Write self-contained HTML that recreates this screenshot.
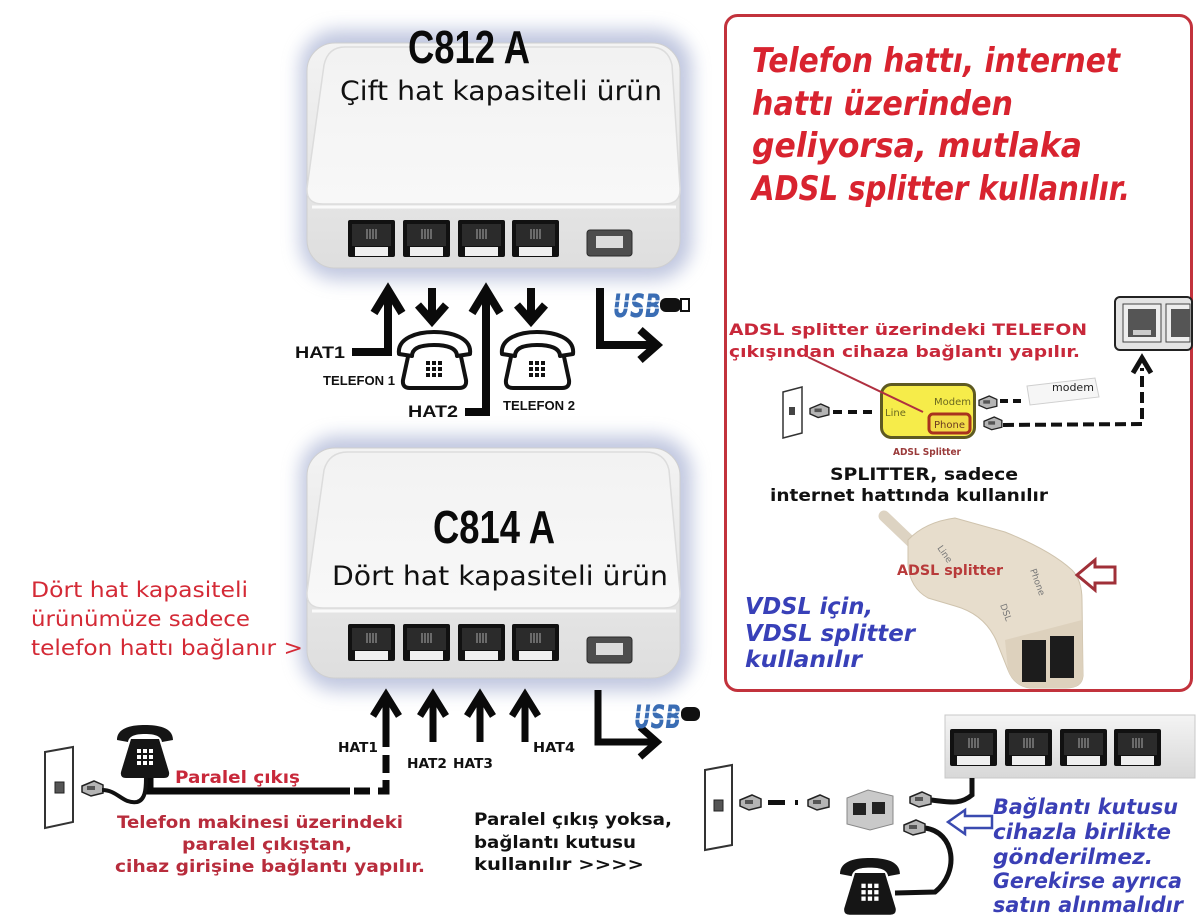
<!DOCTYPE html>
<html><head><meta charset="utf-8"><style>
html,body{margin:0;padding:0;background:#fff;}
svg{display:block;}
.b{font-family:"DejaVu Sans","Liberation Sans",sans-serif;font-weight:bold;}
.bi{font-family:"DejaVu Sans","Liberation Sans",sans-serif;font-weight:bold;font-style:italic;}
.r{font-family:"DejaVu Sans","Liberation Sans",sans-serif;}
.imp{font-family:"Liberation Sans Narrow","Liberation Sans",sans-serif;font-weight:bold;}
.ab{font-family:"Liberation Sans",sans-serif;font-weight:bold;}
</style></head><body>
<svg width="1200" height="917" viewBox="0 0 1200 917" xmlns="http://www.w3.org/2000/svg">
<defs>
  <filter id="blur" x="-20%" y="-20%" width="140%" height="140%"><feGaussianBlur stdDeviation="9"/></filter>
  <linearGradient id="topG" x1="0" y1="0" x2="0" y2="1">
    <stop offset="0" stop-color="#f2f2f2"/><stop offset="1" stop-color="#f8f8f8"/>
  </linearGradient>
  <linearGradient id="frontG" x1="0" y1="0" x2="0" y2="1">
    <stop offset="0" stop-color="#f3f3f3"/><stop offset="1" stop-color="#dedede"/>
  </linearGradient>
  <linearGradient id="stripG" x1="0" y1="0" x2="0" y2="1">
    <stop offset="0" stop-color="#f4f4f4"/><stop offset="1" stop-color="#d8d8d8"/>
  </linearGradient>
  <g id="port">
    <rect x="0" y="0" width="47" height="37" rx="2" fill="#111"/>
    <rect x="4" y="4" width="39" height="22" fill="#2b2b2b"/>
    <g stroke="#8c8c8c" stroke-width="1.3"><line x1="19" y1="9" x2="19" y2="19"/><line x1="22" y1="9" x2="22" y2="19"/><line x1="25" y1="9" x2="25" y2="19"/><line x1="28" y1="9" x2="28" y2="19"/></g>
    <rect x="7" y="27" width="33" height="9" fill="#efefef"/>
  </g>
  <g id="phoneO">
    <path d="M12,20 L6,48 Q5,56 13,56 H62 Q70,56 69,48 L63,20" fill="#fff" stroke="#111" stroke-width="4" stroke-linejoin="round"/>
    <path d="M2,22 C0,6 20,0 37,0 C55,0 75,6 73,22 L60,24 C60,16 50,13 37,13 C24,13 15,16 15,24 Z" fill="#fff" stroke="#111" stroke-width="4" stroke-linejoin="round"/>
    <g fill="#111"><rect x="29" y="29" width="4" height="4"/><rect x="35" y="29" width="4" height="4"/><rect x="41" y="29" width="4" height="4"/><rect x="29" y="35" width="4" height="4"/><rect x="35" y="35" width="4" height="4"/><rect x="41" y="35" width="4" height="4"/><rect x="29" y="41" width="4" height="4"/><rect x="35" y="41" width="4" height="4"/><rect x="41" y="41" width="4" height="4"/></g>
  </g>
  <g id="phoneB">
    <path d="M14,14 L42,14 L52,47 Q53,53 47,53 H9 Q3,53 4,47 Z" fill="#151515"/>
    <path d="M0,15 C0,2 16,0 28,0 C40,0 56,2 56,15 L45,17 C44,11 38,9 28,9 C18,9 12,11 11,17 Z" fill="#151515"/>
    <g fill="#fff"><rect x="20" y="24" width="4" height="4"/><rect x="26" y="24" width="4" height="4"/><rect x="32" y="24" width="4" height="4"/><rect x="20" y="30" width="4" height="4"/><rect x="26" y="30" width="4" height="4"/><rect x="32" y="30" width="4" height="4"/><rect x="20" y="36" width="4" height="4"/><rect x="26" y="36" width="4" height="4"/><rect x="32" y="36" width="4" height="4"/></g>
  </g>
  <g id="plug">
    <path d="M0,5 L12,0 L21,4 L21,12 L9,15 L0,11 Z" fill="#b5b5b5" stroke="#222" stroke-width="1.5"/>
    <rect x="5" y="5" width="8" height="4" fill="#555"/>
  </g>
</defs>

<!-- ===== C812 device ===== -->
<rect x="300" y="30" width="392" height="250" rx="38" fill="#8d9ac6" opacity="0.55" filter="url(#blur)"/>
<rect x="307" y="43" width="373" height="225" rx="28" fill="url(#frontG)" stroke="#cfcfcf"/>
<path d="M345,47 H650 Q668,47 672,65 L680,188 Q681,204 664,204 H323 Q306,204 307,188 L324,65 Q328,47 345,47 Z" fill="url(#topG)" stroke="#dcdcdc" stroke-width="1.5"/>
<line x1="312" y1="207" x2="676" y2="207" stroke="#fafafa" stroke-width="3"/>
<use href="#port" x="348" y="220"/><use href="#port" x="403" y="220"/><use href="#port" x="458" y="220"/><use href="#port" x="512" y="220"/>
<rect x="587" y="230" width="45" height="26" rx="3" fill="#4d4d4d" stroke="#2a2a2a"/>
<rect x="596" y="236" width="27" height="12" fill="#dcdcdc"/>
<text class="imp" x="408" y="63" font-size="46" textLength="122" lengthAdjust="spacingAndGlyphs" fill="#0a0a0a">C812 A</text>
<text class="r" x="340" y="100" font-size="27" textLength="322" lengthAdjust="spacingAndGlyphs" fill="#111">Çift hat kapasiteli ürün</text>

<!-- ===== top arrows ===== -->
<g fill="none" stroke="#0a0a0a" stroke-width="8" stroke-linejoin="miter">
  <polyline points="352,352 388,352 388,292"/>
  <polyline points="374,313 388,290 402,313"/>
  <line x1="432" y1="288" x2="432" y2="318"/>
  <polyline points="418,305 432,321 446,305"/>
  <polyline points="465,412 486,412 486,292"/>
  <polyline points="472,313 486,290 500,313"/>
  <line x1="531" y1="288" x2="531" y2="318"/>
  <polyline points="517,305 531,321 545,305"/>
  <polyline points="600,288 600,345 655,345"/>
  <polyline points="640,330 657,345 640,360"/>
</g>
<use href="#phoneO" x="397" y="332"/>
<use href="#phoneO" x="500" y="332"/>
<text class="ab" x="295" y="358" font-size="17" textLength="50" lengthAdjust="spacingAndGlyphs" fill="#111">HAT1</text>
<text class="ab" x="323" y="385" font-size="13" textLength="72" lengthAdjust="spacingAndGlyphs" fill="#111">TELEFON 1</text>
<text class="ab" x="408" y="417" font-size="17" textLength="50" lengthAdjust="spacingAndGlyphs" fill="#111">HAT2</text>
<text class="ab" x="503" y="410" font-size="13" textLength="72" lengthAdjust="spacingAndGlyphs" fill="#111">TELEFON 2</text>
<!-- USB logo top -->
<text class="bi" x="613" y="317" font-size="32" textLength="48" lengthAdjust="spacingAndGlyphs" fill="#3a6db4">USB</text>
<g stroke="#fff" stroke-width="1.3"><line x1="610" y1="301" x2="662" y2="301"/><line x1="610" y1="308" x2="662" y2="308"/></g>
<rect x="660" y="298" width="21" height="14" rx="6" fill="#111"/>
<rect x="681" y="299" width="8" height="12" fill="#fff" stroke="#111" stroke-width="2"/>

<!-- ===== C814 device ===== -->
<rect x="300" y="436" width="392" height="255" rx="38" fill="#8d9ac6" opacity="0.55" filter="url(#blur)"/>
<rect x="307" y="448" width="373" height="230" rx="28" fill="url(#frontG)" stroke="#cfcfcf"/>
<path d="M348,452 H645 Q665,452 669,470 L680,592 Q681,608 664,608 H323 Q306,608 307,592 L324,470 Q329,452 348,452 Z" fill="url(#topG)" stroke="#dcdcdc" stroke-width="1.5"/>
<line x1="312" y1="611" x2="676" y2="611" stroke="#fafafa" stroke-width="3"/>
<use href="#port" x="348" y="624"/><use href="#port" x="403" y="624"/><use href="#port" x="458" y="624"/><use href="#port" x="512" y="624"/>
<rect x="587" y="637" width="45" height="26" rx="3" fill="#4d4d4d" stroke="#2a2a2a"/>
<rect x="596" y="643" width="27" height="12" fill="#dcdcdc"/>
<text class="imp" x="433" y="543" font-size="46" textLength="122" lengthAdjust="spacingAndGlyphs" fill="#0a0a0a">C814 A</text>
<text class="r" x="332" y="585" font-size="27" textLength="336" lengthAdjust="spacingAndGlyphs" fill="#111">Dört hat kapasiteli ürün</text>

<!-- left red text -->
<g class="r" fill="#d42a36" font-size="21">
  <text x="31" y="597" textLength="217" lengthAdjust="spacingAndGlyphs">Dört hat kapasiteli</text>
  <text x="31" y="626" textLength="219" lengthAdjust="spacingAndGlyphs">ürünümüze sadece</text>
  <text x="31" y="655" textLength="272" lengthAdjust="spacingAndGlyphs">telefon hattı bağlanır &gt;</text>
</g>

<!-- ===== bottom arrows ===== -->
<g fill="none" stroke="#0a0a0a" stroke-width="7">
  <line x1="386" y1="697" x2="386" y2="747"/>
  <polyline points="373,716 386,695 399,716"/>
  <line x1="433" y1="697" x2="433" y2="742"/>
  <polyline points="420,716 433,695 446,716"/>
  <line x1="480" y1="697" x2="480" y2="742"/>
  <polyline points="467,716 480,695 493,716"/>
  <line x1="525" y1="697" x2="525" y2="742"/>
  <polyline points="512,716 525,695 538,716"/>
  <polyline points="598,690 598,742 655,742"/>
  <polyline points="640,727 657,742 640,757"/>
  <line x1="386" y1="755" x2="386" y2="773"/>
  <polyline points="378,791 386,791 386,780"/>
  <polyline points="150,778 150,791 350,791"/>
  <line x1="354" y1="791" x2="370" y2="791"/>
</g>
<text class="b" x="338" y="752" font-size="13" textLength="40" lengthAdjust="spacingAndGlyphs" fill="#111">HAT1</text>
<text class="b" x="407" y="768" font-size="13" textLength="40" lengthAdjust="spacingAndGlyphs" fill="#111">HAT2</text>
<text class="b" x="453" y="768" font-size="13" textLength="40" lengthAdjust="spacingAndGlyphs" fill="#111">HAT3</text>
<text class="b" x="533" y="752" font-size="13" textLength="42" lengthAdjust="spacingAndGlyphs" fill="#111">HAT4</text>
<!-- USB logo bottom -->
<text class="bi" x="634" y="728" font-size="32" textLength="47" lengthAdjust="spacingAndGlyphs" fill="#3a6db4">USB</text>
<g stroke="#fff" stroke-width="1.3"><line x1="631" y1="712" x2="682" y2="712"/><line x1="631" y1="719" x2="682" y2="719"/></g>
<rect x="681" y="707" width="19" height="14" rx="6" fill="#111"/>

<!-- bottom-left wiring -->
<path d="M45,752 L73,747 L73,822 L45,828 Z" fill="#fff" stroke="#333" stroke-width="2"/>
<rect x="55" y="782" width="9" height="11" fill="#555" stroke="#222"/>
<use href="#plug" x="82" y="781"/>
<path d="M102,790 C118,790 122,804 137,802 C145,800 146,790 146,778" fill="none" stroke="#111" stroke-width="4"/>
<use href="#phoneB" x="117" y="725"/>
<text class="b" x="175" y="783" font-size="17" textLength="125" lengthAdjust="spacingAndGlyphs" fill="#c8283a">Paralel çıkış</text>
<g class="b" fill="#b82c3c" font-size="17">
  <text x="117" y="828" textLength="286" lengthAdjust="spacingAndGlyphs">Telefon makinesi üzerindeki</text>
  <text x="182" y="850" textLength="170" lengthAdjust="spacingAndGlyphs">paralel çıkıştan,</text>
  <text x="115" y="872" textLength="310" lengthAdjust="spacingAndGlyphs">cihaz girişine bağlantı yapılır.</text>
</g>
<g class="b" fill="#111" font-size="17">
  <text x="474" y="825" textLength="198" lengthAdjust="spacingAndGlyphs">Paralel çıkış yoksa,</text>
  <text x="474" y="848" textLength="162" lengthAdjust="spacingAndGlyphs">bağlantı kutusu</text>
  <text x="474" y="870" textLength="170" lengthAdjust="spacingAndGlyphs">kullanılır  &gt;&gt;&gt;&gt;</text>
</g>

<!-- ===== bottom-right ===== -->
<rect x="945" y="715" width="250" height="63" fill="url(#stripG)" stroke="#c8c8c8"/>
<use href="#port" x="950" y="729"/><use href="#port" x="1005" y="729"/><use href="#port" x="1060" y="729"/><use href="#port" x="1114" y="729"/>
<path d="M705,770 L732,765 L732,845 L705,850 Z" fill="#fff" stroke="#333" stroke-width="2"/>
<rect x="714" y="800" width="9" height="11" fill="#555" stroke="#222"/>
<use href="#plug" x="740" y="795"/>
<rect x="768" y="800" width="17" height="5" fill="#111"/><rect x="795" y="800" width="3" height="5" fill="#111"/>
<use href="#plug" x="808" y="795"/>
<path d="M847,798 L868,790 L893,796 L893,824 L870,830 L847,824 Z" fill="#c9c9c9" stroke="#888"/>
<rect x="853" y="803" width="13" height="12" fill="#222"/><rect x="872" y="802" width="13" height="12" fill="#222"/>
<path d="M931,800 C950,802 960,805 972,795 L972,778" fill="none" stroke="#111" stroke-width="5"/>
<path d="M925,828 C955,832 960,872 935,892 L895,893" fill="none" stroke="#111" stroke-width="5"/>
<use href="#plug" x="910" y="792"/>
<use href="#plug" x="904" y="820"/>
<use href="#phoneB" x="840" y="858" transform="translate(840,858) scale(1.07) translate(-840,-858)"/>
<path d="M948,822 L965,810 L965,816 L992,816 L992,828 L965,828 L965,834 Z" fill="#fff" stroke="#3a4ab0" stroke-width="2.5"/>
<g class="bi" fill="#3a3fb5" font-size="21">
  <text x="993" y="814" textLength="185" lengthAdjust="spacingAndGlyphs">Bağlantı kutusu</text>
  <text x="993" y="839" textLength="178" lengthAdjust="spacingAndGlyphs">cihazla birlikte</text>
  <text x="993" y="864" textLength="160" lengthAdjust="spacingAndGlyphs">gönderilmez.</text>
  <text x="993" y="888" textLength="189" lengthAdjust="spacingAndGlyphs">Gerekirse ayrıca</text>
  <text x="993" y="912" textLength="190" lengthAdjust="spacingAndGlyphs">satın alınmalıdır</text>
</g>

<!-- ===== red info box ===== -->
<rect x="725.5" y="15.5" width="466" height="675" rx="12" fill="none" stroke="#c2323c" stroke-width="3"/>
<g class="bi" fill="#d8232f" font-size="34">
  <text x="752" y="72" textLength="368" lengthAdjust="spacingAndGlyphs">Telefon hattı, internet</text>
  <text x="752" y="115" textLength="261" lengthAdjust="spacingAndGlyphs">hattı üzerinden</text>
  <text x="752" y="157" textLength="330" lengthAdjust="spacingAndGlyphs">geliyorsa, mutlaka</text>
  <text x="752" y="200" textLength="378" lengthAdjust="spacingAndGlyphs">ADSL splitter kullanılır.</text>
</g>
<g class="b" fill="#c8283a" font-size="16">
  <text x="729" y="335" textLength="358" lengthAdjust="spacingAndGlyphs">ADSL splitter üzerindeki TELEFON</text>
  <text x="729" y="357" textLength="351" lengthAdjust="spacingAndGlyphs">çıkışından cihaza bağlantı yapılır.</text>
</g>
<!-- port image top right -->
<rect x="1115" y="297" width="77" height="53" rx="5" fill="#e4e4e4" stroke="#222" stroke-width="2"/>
<rect x="1123" y="304" width="38" height="38" fill="#eee" stroke="#444"/>
<rect x="1128" y="309" width="28" height="28" fill="#555"/><rect x="1133" y="330" width="18" height="5" fill="#ccc"/>
<rect x="1166" y="304" width="24" height="38" fill="#eee" stroke="#444"/>
<rect x="1171" y="309" width="19" height="28" fill="#555"/>
<!-- splitter diagram -->
<path d="M783,392 L802,387 L802,433 L783,438 Z" fill="#fff" stroke="#333" stroke-width="1.5"/>
<rect x="789" y="407" width="6" height="8" fill="#444"/>
<use href="#plug" x="810" y="404" transform="translate(810,404) scale(0.9) translate(-810,-404)"/>
<line x1="833" y1="412" x2="872" y2="412" stroke="#111" stroke-width="4" stroke-dasharray="9,6"/>
<rect x="881.5" y="384.5" width="93" height="53" rx="10" fill="#f6ec4a" stroke="#5e5a22" stroke-width="3"/>
<text class="r" x="885" y="416" font-size="10" fill="#6b6820">Line</text>
<text class="r" x="934" y="405" font-size="10" fill="#6b6820">Modem</text>
<rect x="929" y="414" width="41" height="19" rx="4" fill="#f2dc48" stroke="#a8321e" stroke-width="3"/>
<text class="r" x="934" y="428" font-size="10" fill="#6b3a20">Phone</text>
<line x1="808" y1="357" x2="923" y2="412" stroke="#b03040" stroke-width="2"/>
<text class="b" x="893" y="455" font-size="10" textLength="68" lengthAdjust="spacingAndGlyphs" fill="#9a3a3a">ADSL Splitter</text>
<use href="#plug" x="979" y="396" transform="translate(979,396) scale(0.85) translate(-979,-396)"/>
<use href="#plug" x="984" y="417" transform="translate(984,417) scale(0.85) translate(-984,-417)"/>
<line x1="1000" y1="401" x2="1024" y2="401" stroke="#111" stroke-width="4" stroke-dasharray="8,5"/>
<path d="M1027,386 L1095,378 L1099,397 L1030,405 Z" fill="#f6f6f6" stroke="#cfcfcf"/>
<text class="r" x="1052" y="391" font-size="11" fill="#222">modem</text>
<polyline points="1003,425 1142,424 1142,368" fill="none" stroke="#111" stroke-width="4" stroke-dasharray="11,5"/>
<polyline points="1133,373 1142,358 1151,373" fill="none" stroke="#111" stroke-width="5"/>
<text class="b" x="830" y="480" font-size="17" textLength="188" lengthAdjust="spacingAndGlyphs" fill="#111">SPLITTER, sadece</text>
<text class="b" x="770" y="501" font-size="17" textLength="278" lengthAdjust="spacingAndGlyphs" fill="#111">internet hattında kullanılır</text>
<!-- ADSL splitter photo -->
<line x1="884" y1="516" x2="930" y2="560" stroke="#ddd3c2" stroke-width="11" stroke-linecap="round"/>
<path d="M908,540 Q925,522 955,518 L1005,532 Q1050,550 1072,570 Q1082,580 1082,600 L1083,676 Q1082,688 1066,688 L1030,688 Q1014,686 1008,670 L996,640 Q984,614 955,606 L928,598 Q910,588 908,565 Z" fill="#e7ddcc" stroke="#cfc3ad"/>
<path d="M1005,640 L1082,620 L1083,676 Q1082,688 1066,688 L1030,688 Q1014,686 1008,670 Z" fill="#ddd1bd"/>
<rect x="1022" y="640" width="24" height="42" fill="#1c1c1c"/>
<rect x="1050" y="636" width="24" height="42" fill="#1c1c1c"/>
<text class="r" x="937" y="548" font-size="9" fill="#777" transform="rotate(55 937 548)">Line</text>
<text class="r" x="1030" y="570" font-size="9" fill="#777" transform="rotate(70 1030 570)">Phone</text>
<text class="r" x="1000" y="605" font-size="9" fill="#777" transform="rotate(70 1000 605)">DSL</text>
<text class="b" x="897" y="575" font-size="14" textLength="106" lengthAdjust="spacingAndGlyphs" fill="#b83a3a">ADSL splitter</text>
<path d="M1077,575 L1095,560 L1095,567 L1115,567 L1115,583 L1095,583 L1095,590 Z" fill="#fff" stroke="#a03038" stroke-width="3"/>
<g class="bi" fill="#3840b8" font-size="23">
  <text x="745" y="614" textLength="128" lengthAdjust="spacingAndGlyphs">VDSL için,</text>
  <text x="745" y="641" textLength="170" lengthAdjust="spacingAndGlyphs">VDSL splitter</text>
  <text x="745" y="667" textLength="117" lengthAdjust="spacingAndGlyphs">kullanılır</text>
</g>
</svg>
</body></html>
